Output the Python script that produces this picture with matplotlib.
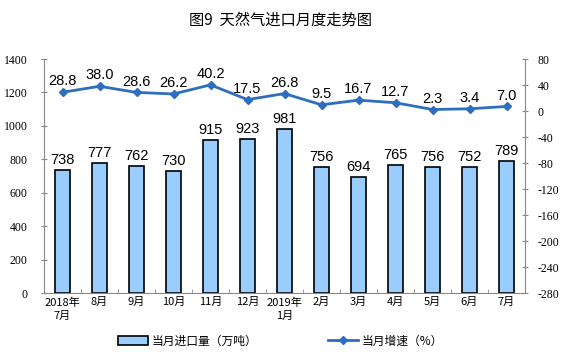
import matplotlib
matplotlib.use("Agg")
import matplotlib.pyplot as plt
from matplotlib.ticker import FixedLocator

plt.rcParams['font.family'] = ['Noto Sans CJK SC', 'DejaVu Sans']

categories = ["2018年\n7月", "8月", "9月", "10月", "11月", "12月", "2019年\n1月",
              "2月", "3月", "4月", "5月", "6月", "7月"]
imports = [738, 777, 762, 730, 915, 923, 981, 756, 694, 765, 756, 752, 789]
growth = [28.8, 38.0, 28.6, 26.2, 40.2, 17.5, 26.8, 9.5, 16.7, 12.7, 2.3, 3.4, 7.0]
left_ticks = [0, 200, 400, 600, 800, 1000, 1200, 1400]
right_ticks = [-280, -240, -200, -160, -120, -80, -40, 0, 40, 80]

W, H = 561, 357
fig = plt.figure(figsize=(W/100, H/100), dpi=100)
ax = fig.add_axes([44/W, 1-293/H, (525-44)/W, (293-59)/H])
ax2 = ax.twinx()

serif = ['Liberation Serif', 'DejaVu Serif']

x = list(range(len(categories)))
bars = ax.bar(x, imports, width=0.4, color="#99CCFF", edgecolor="black", linewidth=1.2,
              label="当月进口量（万吨）", zorder=2)
ax.set_ylim(0, 1400)
ax.set_xlim(-0.5, len(categories)-0.5)
ax.set_yticks(left_ticks)
ax.set_yticklabels([str(t) for t in left_ticks], family=serif, fontsize=8.5)
ax.set_xticks(x)
ax.set_xticklabels(categories, fontsize=8, linespacing=1.45)
ax.xaxis.set_minor_locator(FixedLocator([i+0.5 for i in range(-1, len(categories))]))
ax.tick_params(axis='x', which='major', length=0, pad=3)
ax.tick_params(axis='x', which='minor', length=3, direction='in', color="#888888")
ax.tick_params(axis='y', length=4, direction='inout', color="#888888", pad=10)
for v, xi in zip(imports, x):
    ax.text(xi, v + 18, str(v), ha='center', va='bottom', fontsize=10.5,
            family="Liberation Sans")

line, = ax2.plot(x, growth, color="#2E6EBF", linewidth=2, marker='D', markersize=4,
                 label="当月增速（%）", zorder=3)
ax2.set_ylim(-280, 80)
ax2.set_yticks(right_ticks)
ax2.set_yticklabels([str(t) for t in right_ticks], family=serif, fontsize=8.5)
ax2.tick_params(axis='y', length=4, direction='inout', color="#888888", pad=7)
for v, xi in zip(growth, x):
    ax2.text(xi, v + 6, f"{v:.1f}", ha='center', va='bottom', fontsize=10.5,
             family="Liberation Sans")

for a in (ax, ax2):
    a.spines['top'].set_visible(False)
    for s in ('left', 'right', 'bottom'):
        a.spines[s].set_color("#888888")
        a.spines[s].set_linewidth(0.8)
ax.spines['right'].set_visible(False)
ax2.spines['left'].set_visible(False)
ax2.spines['bottom'].set_visible(False)

fig.text(0.5, 1-20/H, "图9  天然气进口月度走势图", ha='center', va='center', fontsize=11)

fig.legend([bars, line], ["当月进口量（万吨）", "当月增速（%）"], loc='center',
           bbox_to_anchor=(0.5, 1-341/H), ncol=2, frameon=False, fontsize=8.5,
           columnspacing=6, handlelength=2.5, handletextpad=0.3)

fig.savefig("out.png", dpi=100)
